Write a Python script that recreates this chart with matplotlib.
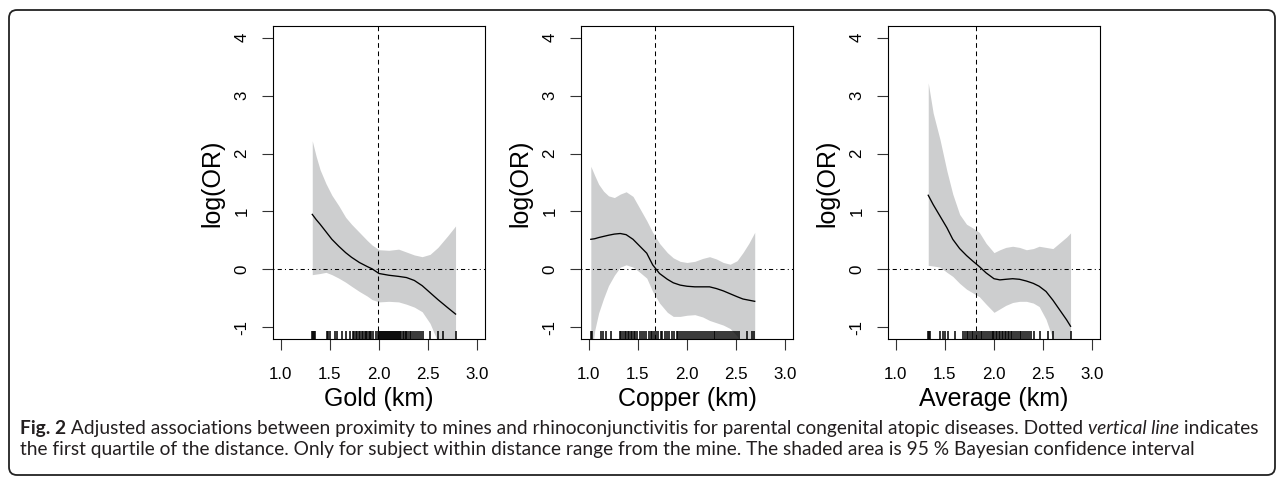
import matplotlib
matplotlib.use("Agg")
import matplotlib.pyplot as plt
from matplotlib.patches import FancyBboxPatch

W, H = 1284, 482
DPI = 100

# ---------------- data ----------------
gold_x = [1.32, 1.36, 1.40, 1.46, 1.52, 1.59, 1.66, 1.72, 1.80, 1.88, 1.93, 2.00,
          2.10, 2.20, 2.28, 2.36, 2.44, 2.52, 2.60, 2.70, 2.78]
gold_fit = [0.95, 0.86, 0.78, 0.65, 0.52, 0.40, 0.29, 0.21, 0.12, 0.05, 0.01, -0.07,
            -0.10, -0.12, -0.14, -0.19, -0.28, -0.40, -0.52, -0.66, -0.77]
gold_upper = [2.22, 1.95, 1.72, 1.48, 1.28, 1.10, 0.90, 0.78, 0.64, 0.50, 0.42, 0.34,
              0.33, 0.35, 0.30, 0.25, 0.22, 0.26, 0.38, 0.58, 0.75]
gold_lower = [-0.09, -0.08, -0.07, -0.05, -0.09, -0.15, -0.22, -0.29, -0.38, -0.46, -0.52, -0.56,
              -0.55, -0.56, -0.60, -0.65, -0.73, -0.93, -1.25, -1.70, -2.10]
gold_q1 = 1.99
gold_rug = [1.32, 1.33, 1.34, 1.35, 1.47, 1.48, 1.50, 1.55, 1.57, 1.62, 1.66, 1.70, 1.73,
            1.75, 1.77, 1.78, 1.80, 1.81, 1.83, 1.84, 1.86, 1.87, 1.88, 1.90, 1.91, 1.92,
            1.94, 1.97, 1.99, 2.00, 2.01, 2.02, 2.03, 2.04, 2.05, 2.06, 2.07, 2.08, 2.09,
            2.10, 2.11, 2.12, 2.13, 2.14, 2.15, 2.16, 2.17, 2.18, 2.19, 2.20, 2.21, 2.22,
            2.24, 2.25, 2.27, 2.28, 2.30, 2.32, 2.33, 2.35, 2.37, 2.39, 2.41, 2.43, 2.45,
            2.52, 2.60, 2.65, 2.78]

cu_x = [1.02, 1.06, 1.10, 1.15, 1.20, 1.26, 1.32, 1.38, 1.45, 1.52, 1.59, 1.65, 1.72,
        1.80, 1.86, 1.93, 2.00, 2.08, 2.16, 2.23, 2.30, 2.37, 2.44, 2.51, 2.57, 2.63, 2.69]
cu_fit = [0.52, 0.53, 0.55, 0.57, 0.59, 0.61, 0.62, 0.60, 0.52, 0.40, 0.28, 0.08, -0.07,
          -0.17, -0.23, -0.27, -0.29, -0.30, -0.30, -0.30, -0.33, -0.37, -0.42, -0.47,
          -0.51, -0.53, -0.55]
cu_upper = [1.78, 1.62, 1.47, 1.35, 1.27, 1.24, 1.30, 1.34, 1.26, 1.05, 0.84, 0.64, 0.45,
            0.29, 0.20, 0.14, 0.12, 0.14, 0.19, 0.22, 0.18, 0.12, 0.09, 0.15, 0.29, 0.45, 0.64]
cu_lower = [-1.60, -1.05, -0.75, -0.50, -0.28, -0.10, 0.04, 0.08, 0.04, -0.05, -0.15, -0.38,
            -0.58, -0.74, -0.81, -0.81, -0.79, -0.78, -0.82, -0.88, -0.92, -0.96, -1.02,
            -1.15, -1.30, -1.50, -1.70]
cu_q1 = 1.67
cu_rug = [1.02, 1.03, 1.12, 1.14, 1.17, 1.23, 1.32, 1.33, 1.35, 1.37, 1.38, 1.40, 1.41,
          1.43, 1.44, 1.46, 1.47, 1.49, 1.52, 1.54, 1.56, 1.58, 1.61, 1.63, 1.64, 1.66,
          1.68, 1.70, 1.73, 1.75, 1.78, 1.80, 1.82, 1.85, 1.87, 1.90, 1.91, 1.93, 1.95,
          1.97, 1.99, 2.01, 2.03, 2.05, 2.07, 2.09, 2.11, 2.13, 2.15, 2.17, 2.19, 2.21,
          2.23, 2.25, 2.27, 2.29, 2.31, 2.33, 2.35, 2.37, 2.39, 2.41, 2.43, 2.45, 2.47,
          2.49, 2.51, 2.53, 2.61, 2.66, 2.68]

av_x = [1.33, 1.38, 1.45, 1.52, 1.58, 1.65, 1.72, 1.78, 1.85, 1.92, 2.00, 2.06, 2.12,
        2.19, 2.26, 2.33, 2.40, 2.46, 2.53, 2.60, 2.67, 2.74, 2.78]
av_fit = [1.28, 1.12, 0.92, 0.72, 0.52, 0.36, 0.24, 0.15, 0.05, -0.06, -0.16, -0.18,
          -0.17, -0.16, -0.17, -0.20, -0.24, -0.29, -0.38, -0.53, -0.70, -0.87, -0.98]
av_upper = [3.22, 2.70, 2.24, 1.70, 1.30, 0.95, 0.78, 0.72, 0.64, 0.45, 0.29, 0.34, 0.38,
            0.40, 0.38, 0.34, 0.36, 0.40, 0.38, 0.36, 0.46, 0.56, 0.63]
av_lower = [0.07, 0.06, 0.04, -0.05, -0.12, -0.24, -0.34, -0.40, -0.47, -0.60, -0.74,
            -0.68, -0.62, -0.57, -0.55, -0.55, -0.58, -0.64, -0.86, -1.20, -1.60, -2.00, -2.20]
av_q1 = 1.82
av_rug = [1.33, 1.34, 1.35, 1.45, 1.48, 1.50, 1.53, 1.60, 1.68, 1.70, 1.72, 1.74, 1.76,
          1.78, 1.79, 1.81, 1.83, 1.85, 1.87, 1.88, 1.90, 1.92, 1.94, 1.96, 1.98, 1.99,
          2.00, 2.02, 2.03, 2.05, 2.06, 2.08, 2.09, 2.11, 2.12, 2.14, 2.15, 2.17, 2.18,
          2.20, 2.22, 2.24, 2.26, 2.28, 2.30, 2.32, 2.34, 2.36, 2.38, 2.41, 2.47, 2.55,
          2.60, 2.78]

x_labels = ["Gold (km)", "Copper (km)", "Average (km)"]
y_label = "log(OR)"
x_ticks = [1.0, 1.5, 2.0, 2.5, 3.0]
x_ticklabels = ["1.0", "1.5", "2.0", "2.5", "3.0"]
y_ticks = [-1, 0, 1, 2, 3, 4]
y_ticklabels = ["-1", "0", "1", "2", "3", "4"]

caption_parts = [
    ("Fig. 2", "bold", "normal"),
    (" Adjusted associations between proximity to mines and rhinoconjunctivitis for parental congenital atopic diseases. Dotted ", "normal", "normal"),
    ("vertical line", "normal", "italic"),
    (" indicates", "normal", "normal"),
]
caption_line2 = ("the first quartile of the distance. Only for subject within distance range "
                 "from the mine. The shaded area is 95 % Bayesian confidence interval")

# ---------------- figure ----------------
plt.rcParams['font.family'] = ['Liberation Sans', 'DejaVu Sans']
fig = plt.figure(figsize=(W / DPI, H / DPI), dpi=DPI)

panels = [
    (gold_x, gold_fit, gold_upper, gold_lower, gold_q1, gold_rug, 273),
    (cu_x, cu_fit, cu_upper, cu_lower, cu_q1, cu_rug, 581),
    (av_x, av_fit, av_upper, av_lower, av_q1, av_rug, 888),
]
ax_top, ax_bot = 26, 339
ax_w = 212

for i, (x, fit, up, lo, q1, rug, left) in enumerate(panels):
    ax = fig.add_axes([left / W, (H - ax_bot) / H, ax_w / W, (ax_bot - ax_top) / H])
    ax.set_xlim(0.92, 3.08)
    ax.set_ylim(-1.2, 4.2)
    ax.fill_between(x, lo, up, color='#cdcecf', lw=0, zorder=1)
    ax.plot(x, fit, color='black', lw=0.95, zorder=3)
    ax.axhline(0, color='black', lw=0.75, dashes=(1, 3, 4, 3), zorder=2)
    ax.axvline(q1, color='black', lw=0.75, dashes=(4.5, 3.5), zorder=2)
    ax.vlines(rug, 0, 0.025, transform=ax.get_xaxis_transform(), color='black', lw=1.1, zorder=4)
    for s in ax.spines.values():
        s.set_linewidth(0.8)
        s.set_color('black')
    ax.set_xticks(x_ticks)
    ax.set_xticklabels(x_ticklabels, fontsize=12.2)
    ax.set_yticks(y_ticks)
    ax.set_yticklabels(y_ticklabels, fontsize=12.2, rotation=90, va='center')
    ax.tick_params(axis='both', direction='out', length=8, width=0.8, color='#333333')
    ax.tick_params(axis='x', pad=12)
    ax.tick_params(axis='y', pad=9)
    cx = (left + ax_w / 2) / W
    fig.text(cx, 1 - 399 / H, x_labels[i], fontsize=18, ha='center', va='center')
    fig.text((left - 61) / W, 1 - 183 / H, y_label, fontsize=18, ha='center', va='center',
             rotation=90)

# border
border = FancyBboxPatch((9 / DPI, (H - 475) / DPI), (1275 - 9) / DPI, (475 - 10) / DPI,
                        boxstyle="round,pad=0,rounding_size=0.08",
                        transform=fig.dpi_scale_trans, fill=False, ec='#222222', lw=1.3)
fig.add_artist(border)

# caption
over = fig.add_axes([0, 0, 1, 1])
over.axis('off')
over.set_xlim(0, W)
over.set_ylim(H, 0)
cap_font = ['Lato', 'DejaVu Sans']
cap_size = 12.0


def draw_line1(size):
    arts = []
    prev = None
    for txt, weight, style in caption_parts:
        if prev is None:
            a = over.text(20, 434, txt, fontsize=size, fontweight=weight, fontstyle=style,
                          family=cap_font, ha='left', va='baseline', color='#231f20')
        else:
            a = over.annotate(txt, xy=(1, 0), xycoords=prev, fontsize=size, fontweight=weight,
                              fontstyle=style, family=cap_font, ha='left', va='bottom',
                              color='#231f20')
        arts.append(a)
        prev = a
    return arts


arts = draw_line1(cap_size)
fig.canvas.draw()
r = fig.canvas.get_renderer()
x0 = arts[0].get_window_extent(r).x0
x1 = arts[-1].get_window_extent(r).x1
target = 1252 - 20
scale = target / (x1 - x0)
for a in arts:
    a.remove()
cap_size = cap_size * scale
arts = draw_line1(cap_size)
over.text(20, 455, caption_line2, fontsize=cap_size, family=cap_font, ha='left',
          va='baseline', color='#231f20')

fig.savefig("out.png", dpi=DPI)
